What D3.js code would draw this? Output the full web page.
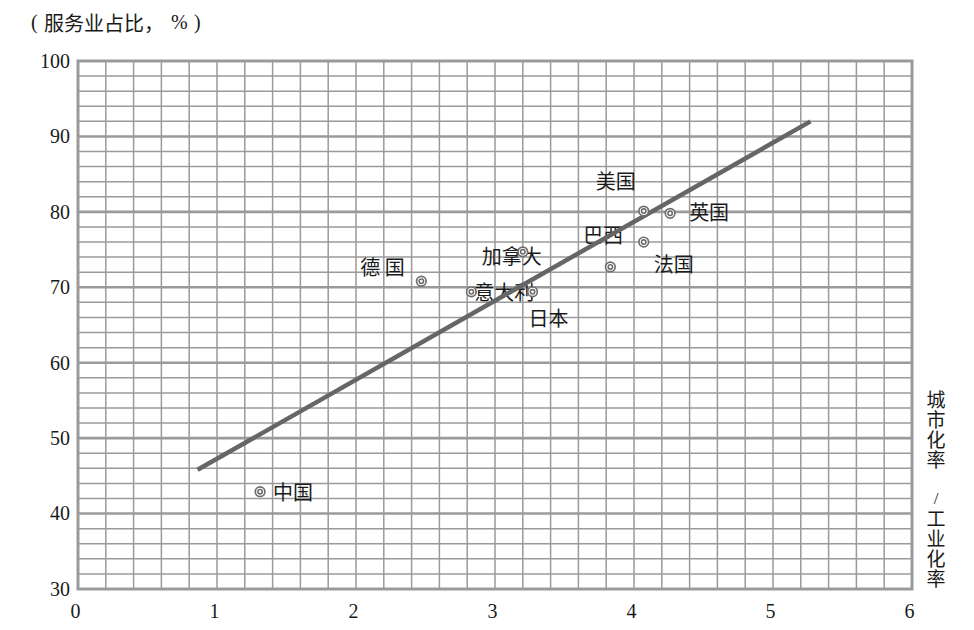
<!DOCTYPE html>
<html><head><meta charset="utf-8">
<script src="https://cdn.jsdelivr.net/npm/d3@7"></script>
<style>
html,body{margin:0;padding:0;background:#fff;}
svg{display:block;}
</style></head>
<body>
<svg id="chart" width="974" height="630"></svg>
<script>
// ---- data ----
const countries = ["中国","德 国","意大利","加拿大","日本","巴西","美国","法国","英国"];
const ratioValues = [1.31, 2.47, 2.83, 3.20, 3.27, 3.83, 4.07, 4.07, 4.26];   // 城市化率 / 工业化率
const serviceShare = [42.9, 70.8, 69.4, 74.7, 69.4, 72.7, 80.1, 76.0, 79.8];  // 服务业占比 %
const trendX = [0.86, 5.27];
const trendY = [45.8, 92.0];
const xTickLabels = ["0","1","2","3","4","5","6"];
const yTickLabels = ["30","40","50","60","70","80","90","100"];
const yTitleParts = ["(", "服务业占比，", "%", ")"];
const xTitleParts = ["城市化率", "/", "工业化率"];

// ---- label layout (offsets from point, px) ----
const labelOffsets = [[13,0],[-61,-15],[3,0],[-41,4],[-4,26],[-27,-32],[-48,-31],[10,21],[19,-2]];

const svg = d3.select("#chart");
const x = d3.scaleLinear().domain([0,6]).range([78,912]);
const y = d3.scaleLinear().domain([30,100]).range([589,61]);

const cjk = "'Noto Sans CJK SC','Noto Sans CJK JP',sans-serif";
const serif = "'Liberation Serif','DejaVu Serif',serif";
const gridColor = "#9a9a9a";
const ink = "#1a1a1a";

// grid
const g = svg.append("g");
g.selectAll("line.v").data(d3.range(1,30).map(i=>i*0.2)).join("line")
  .attr("x1",d=>x(d)).attr("x2",d=>x(d)).attr("y1",y(30)).attr("y2",y(100))
  .attr("stroke",gridColor).attr("stroke-width",1.5);
g.selectAll("line.h").data(d3.range(1,35).map(i=>30+i*2)).join("line")
  .attr("x1",x(0)).attr("x2",x(6)).attr("y1",d=>y(d)).attr("y2",d=>y(d))
  .attr("stroke",gridColor).attr("stroke-width",d=>(Math.round(d)%10===0)?2.6:1.5);
g.append("rect").attr("x",x(0)).attr("y",y(100)).attr("width",x(6)-x(0)).attr("height",y(30)-y(100))
  .attr("fill","none").attr("stroke",gridColor).attr("stroke-width",3);

// axes tick labels via d3 axes
const yAxis = d3.axisLeft(y).tickValues(yTickLabels.map(Number)).tickSize(0).tickPadding(8)
  .tickFormat((d,i)=>yTickLabels[i]);
svg.append("g").attr("transform",`translate(${x(0)},0)`).call(yAxis)
  .call(s=>s.select(".domain").remove())
  .selectAll("text").attr("font-family",serif).attr("font-size",20).attr("fill",ink);
const xAxis = d3.axisBottom(x).tickValues(xTickLabels.map(Number)).tickSize(0).tickPadding(15)
  .tickFormat((d,i)=>xTickLabels[i]);
svg.append("g").attr("transform",`translate(-3,${y(30)})`).call(xAxis)
  .call(s=>s.select(".domain").remove())
  .selectAll("text").attr("font-family",serif).attr("font-size",20).attr("fill",ink);

// y title
const tt = svg.append("text").attr("y",22).attr("dominant-baseline","central").attr("fill",ink).attr("font-size",20);
const partX = [31, 44, 171, 194];
const partFont = [serif, cjk, serif, serif];
yTitleParts.forEach((p,i)=>{
  tt.append("tspan").attr("x",partX[i]).attr("font-family",partFont[i]).text(p);
});

// x title (vertical writing)
const vStartY = [390, 489, 509];
xTitleParts.forEach((p,i)=>{
  svg.append("text").attr("x",936).attr("y",vStartY[i])
    .style("writing-mode","vertical-rl").style("text-orientation","upright")
    .attr("letter-spacing",1)
    .attr("font-family",p==="/"?serif:cjk).attr("font-size",p==="/"?17:19).attr("fill",ink).text(p);
});

// labels
const pts = countries.map((c,i)=>({name:c, vx:ratioValues[i], vy:serviceShare[i], off:labelOffsets[i]}));
svg.selectAll("text.lab").data(pts).join("text")
  .attr("x",d=>x(d.vx)+d.off[0]).attr("y",d=>y(d.vy)+d.off[1])
  .attr("dominant-baseline","central")
  .attr("font-family",cjk).attr("font-size",20).attr("fill",ink).text(d=>d.name);

// trend line
svg.append("line").attr("x1",x(trendX[0])).attr("y1",y(trendY[0])).attr("x2",x(trendX[1])).attr("y2",y(trendY[1]))
  .attr("stroke","#666").attr("stroke-width",4.5);

// points (double circle)
const pg = svg.selectAll("g.pt").data(pts).join("g").attr("transform",d=>`translate(${x(d.vx)},${y(d.vy)})`);
pg.append("circle").attr("r",4.8).attr("fill","#fff").attr("stroke","#6e6e6e").attr("stroke-width",1.7);
pg.append("circle").attr("r",2.2).attr("fill","none").attr("stroke","#6e6e6e").attr("stroke-width",1.6);
</script>
</body></html>
